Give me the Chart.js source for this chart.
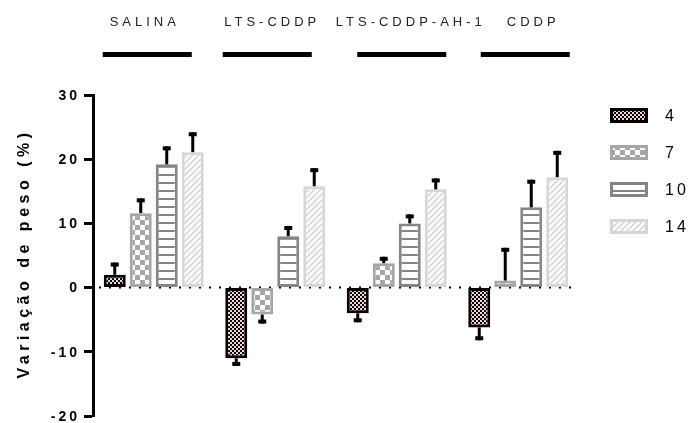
<!DOCTYPE html>
<html>
<head>
<meta charset="utf-8">
<script src="https://cdn.jsdelivr.net/npm/chart.js@4"></script>
<style>body{margin:0;background:#fff}</style>
</head>
<body>
<canvas id="myCanvas" width="693" height="423"></canvas>
<script>
// data
var groups = ["SALINA", "LTS-CDDP", "LTS-CDDP-AH-1", "CDDP"];
var seriesNames = ["4", "7", "10", "14"];
var day4 = [2.0, -11.0, -4.0, -6.2];
var day7 = [11.6, -4.2, 3.8, 1.1];
var day10 = [19.2, 8.0, 10.0, 12.5];
var day14 = [21.1, 15.8, 15.3, 17.2];
var err4 = [1.9, 1.2, 1.4, 2.0];
var err7 = [2.3, 1.4, 1.0, 5.1];
var err10 = [2.8, 1.6, 1.4, 4.3];
var err14 = [3.1, 2.8, 1.7, 4.1];
var yTicks = [-20, -10, 0, 10, 20, 30];
var yTitle = "Variação de peso (%)";

var myCanvas = document.getElementById("myCanvas");
var ctx = myCanvas.getContext("2d");
var FONT = '"Liberation Sans", Arial, sans-serif';

// helper for fill patterns
function makePattern(w, h, paint) {
  var c = document.createElement("canvas");
  c.width = w;
  c.height = h;
  paint(c.getContext("2d"), w, h);
  return ctx.createPattern(c, "repeat");
}

var pat4 = makePattern(4, 4, function (g) {
  g.fillStyle = "#000";
  g.fillRect(0, 0, 4, 4);
  g.fillStyle = "#f6d4d4";
  g.fillRect(0, 0, 2, 2);
  g.fillRect(2, 2, 2, 2);
});
var pat7 = makePattern(10, 10, function (g) {
  g.fillStyle = "#fff";
  g.fillRect(0, 0, 10, 10);
  g.fillStyle = "#a6a6a6";
  g.fillRect(0, 0, 5, 5);
  g.fillRect(5, 5, 5, 5);
});
var pat10 = makePattern(8, 8, function (g) {
  g.fillStyle = "#fff";
  g.fillRect(0, 0, 8, 8);
  g.fillStyle = "#858585";
  g.fillRect(0, 6, 8, 2);
});
var pat14 = makePattern(6, 6, function (g) {
  g.fillStyle = "#fff";
  g.fillRect(0, 0, 6, 6);
  g.strokeStyle = "#d2d2d2";
  g.lineWidth = 1.5;
  g.beginPath();
  g.moveTo(-1, 7); g.lineTo(7, -1);
  g.moveTo(-4, 4); g.lineTo(4, -4);
  g.moveTo(2, 10); g.lineTo(10, 2);
  g.stroke();
});

var fills = [pat4, pat7, pat10, pat14];
var borders = ["#000000", "#a6a6a6", "#858585", "#d6d6d6"];

function makeSet(i, values, errors) {
  return {
    label: seriesNames[i],
    data: values,
    errors: errors,
    backgroundColor: fills[i],
    borderColor: borders[i],
    borderWidth: 3,
    borderSkipped: false,
    categoryPercentage: 0.856,
    barPercentage: 0.846
  };
}

// dotted zero line
var zeroLine = {
  id: "zeroLine",
  beforeDatasetsDraw: function (chart) {
    var c = chart.ctx, a = chart.chartArea;
    var y0 = chart.scales.y.getPixelForValue(0);
    c.save();
    c.strokeStyle = "#000";
    c.lineWidth = 2;
    c.setLineDash([2, 8]);
    c.beginPath();
    c.moveTo(a.left + 6, y0);
    c.lineTo(a.right, y0);
    c.stroke();
    c.restore();
  }
};

// one-sided error bars with caps
var errorBars = {
  id: "errorBars",
  afterDatasetsDraw: function (chart) {
    var c = chart.ctx, ys = chart.scales.y;
    c.save();
    c.fillStyle = "#000";
    chart.data.datasets.forEach(function (ds, i) {
      chart.getDatasetMeta(i).data.forEach(function (bar, j) {
        var v = ds.data[j];
        var tip = v >= 0 ? v + ds.errors[j] : v - ds.errors[j];
        var y1 = ys.getPixelForValue(tip);
        c.fillRect(bar.x - 1.5, Math.min(bar.y, y1), 3, Math.abs(y1 - bar.y));
        c.fillRect(bar.x - 4, v >= 0 ? y1 : y1 - 4, 8, 4);
      });
    });
    c.restore();
  }
};

// labels, group headers, legend
var decorations = {
  id: "decorations",
  afterDraw: function (chart) {
    var c = chart.ctx, a = chart.chartArea, ys = chart.scales.y, xs = chart.scales.x;
    c.save();
    c.fillStyle = "#000";

    // y tick labels
    c.font = "bold 14px " + FONT;
    c.letterSpacing = "3px";
    c.textAlign = "right";
    c.textBaseline = "middle";
    yTicks.forEach(function (t) {
      c.fillText(String(t), 80, ys.getPixelForValue(t) + 1);
    });

    // y title
    c.save();
    c.translate(25, (a.top + a.bottom) / 2);
    c.rotate(-Math.PI / 2);
    c.font = "bold 16px " + FONT;
    c.letterSpacing = "4.5px";
    c.textAlign = "center";
    c.fillText(yTitle, 2, 0);
    c.restore();

    // group headers
    var textShift = [-11, -5, 12, 13];
    var lineShift = [-6.5, -8, 5, 7];
    c.font = "13px " + FONT;
    c.letterSpacing = "4px";
    c.textAlign = "center";
    groups.forEach(function (g, i) {
      var cx = xs.getPixelForValue(i);
      c.fillStyle = "#222";
      c.fillText(g, cx + textShift[i] + 2, 22);
      c.fillStyle = "#000";
      c.fillRect(cx + lineShift[i] - 44.5, 52, 89, 5);
    });

    // legend
    c.font = "16px " + FONT;
    c.letterSpacing = "3px";
    c.textAlign = "left";
    chart.data.datasets.forEach(function (ds, i) {
      var cy = 115 + i * 37;
      c.fillStyle = ds.backgroundColor;
      c.fillRect(610, cy - 7, 38, 15);
      c.strokeStyle = ds.borderColor;
      c.lineWidth = 3;
      c.strokeRect(611.5, cy - 5.5, 35, 12);
      c.fillStyle = "#000";
      c.fillText(ds.label, 665, cy + 2);
    });
    c.restore();
  }
};

var chart = new Chart(myCanvas, {
  type: "bar",
  data: {
    labels: groups,
    datasets: [
      makeSet(0, day4, err4),
      makeSet(1, day7, err7),
      makeSet(2, day10, err10),
      makeSet(3, day14, err14)
    ]
  },
  options: {
    responsive: false,
    animation: false,
    devicePixelRatio: 1,
    layout: { padding: { top: 95, right: 114, bottom: 7, left: 0 } },
    plugins: { legend: { display: false }, tooltip: { enabled: false } },
    scales: {
      x: { display: false },
      y: {
        min: -20,
        max: 30,
        ticks: { stepSize: 10, display: false },
        grid: { drawOnChartArea: false, tickLength: 9, tickWidth: 3, tickColor: "#000" },
        border: { color: "#000", width: 3 },
        afterFit: function (s) { s.width = 93; }
      }
    }
  },
  plugins: [zeroLine, errorBars, decorations]
});
</script>
</body>
</html>
